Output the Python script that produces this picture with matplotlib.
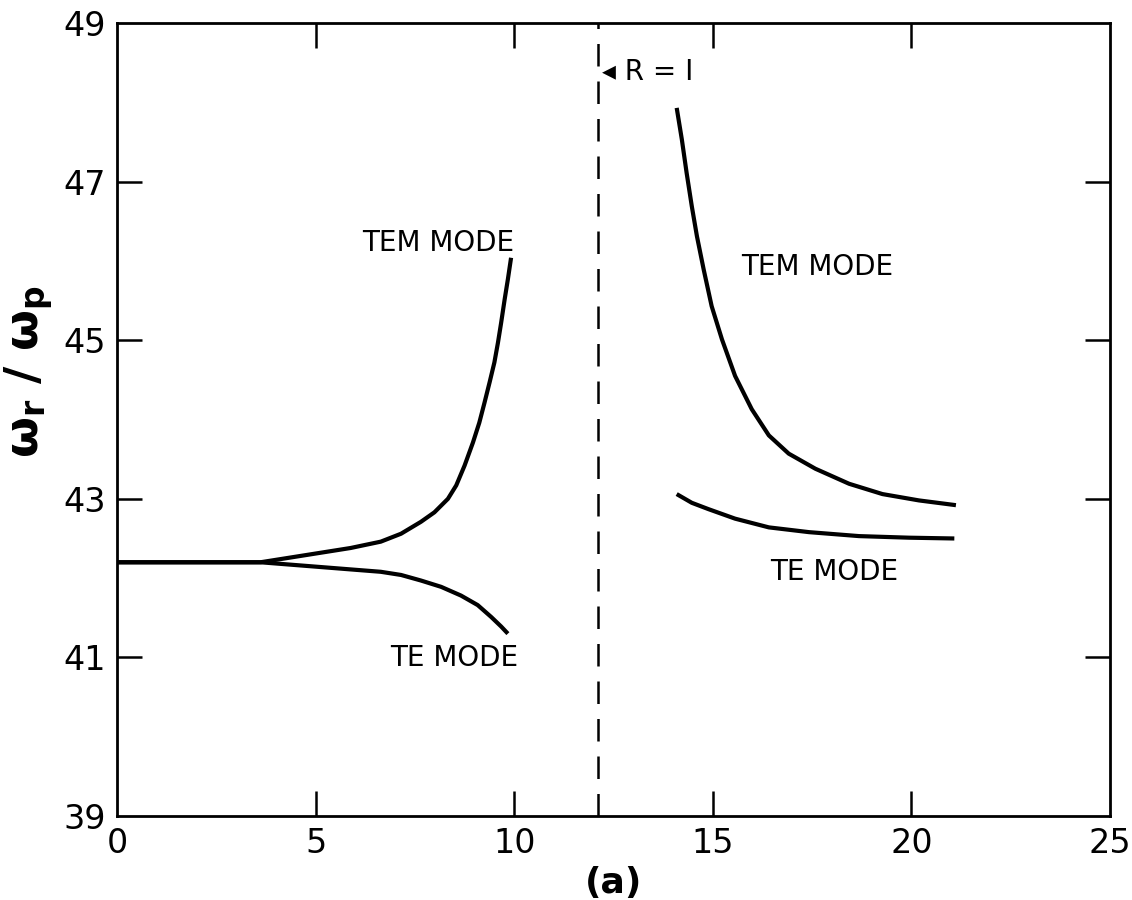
import numpy as np
import matplotlib.pyplot as plt

plt.rcParams['mathtext.default'] = 'regular'

# values
tem_left_x = [0.0, 2.0, 3.61, 4.62, 5.88, 6.64, 7.15, 7.65, 7.99, 8.33, 8.54, 8.75, 8.96,
              9.12, 9.25, 9.38, 9.50, 9.59, 9.67, 9.76, 9.84, 9.92]
tem_left_y = [42.2, 42.2, 42.2, 42.28, 42.38, 42.46, 42.56, 42.71, 42.83, 43.00, 43.17, 43.42, 43.71,
              43.96, 44.21, 44.47, 44.72, 44.97, 45.22, 45.52, 45.77, 46.04]

te_left_x = [0.0, 2.0, 3.61, 4.62, 5.88, 6.64, 7.15, 7.65, 8.16, 8.66, 9.08, 9.42, 9.67, 9.84]
te_left_y = [42.2, 42.2, 42.2, 42.16, 42.11, 42.08, 42.04, 41.97, 41.89, 41.78, 41.66, 41.51, 41.39, 41.30]

tem_right_x = [14.09, 14.22, 14.34, 14.47, 14.60, 14.77, 14.97, 15.23, 15.56, 15.98, 16.41,
               16.91, 17.58, 18.43, 19.27, 20.19, 21.12]
tem_right_y = [47.93, 47.53, 47.11, 46.69, 46.31, 45.89, 45.43, 45.01, 44.55, 44.13, 43.80,
               43.57, 43.38, 43.19, 43.06, 42.98, 42.92]

te_right_x = [14.09, 14.47, 14.89, 15.56, 16.41, 17.42, 18.68, 19.94, 21.08]
te_right_y = [43.06, 42.95, 42.87, 42.75, 42.64, 42.58, 42.53, 42.51, 42.50]

r1_x = 12.1
xticks = [0, 5, 10, 15, 20, 25]
yticks = [39, 41, 43, 45, 47, 49]

fig = plt.figure(figsize=(11.32, 9), dpi=100)
ax = fig.add_axes([0.1034, 0.0933, 0.8772, 0.8811])

for xs, ys in [(tem_left_x, tem_left_y), (te_left_x, te_left_y),
               (tem_right_x, tem_right_y), (te_right_x, te_right_y)]:
    ax.plot(xs, ys, color='black', linewidth=3, solid_capstyle='butt',
            solid_joinstyle='round')

ax.axvline(r1_x, color='black', linewidth=1.8, linestyle=(0, (9, 6)))

ax.set_xlim(0, 25)
ax.set_ylim(39, 49)
ax.set_xticks(xticks)
ax.set_yticks(yticks)
ax.set_xticklabels([str(t) for t in xticks])
ax.set_yticklabels([str(t) for t in yticks])
ax.tick_params(direction='in', length=18, width=1.8, labelsize=24,
               top=True, right=True, pad=8)
for spine in ax.spines.values():
    spine.set_linewidth(2)
# hide corner ticks
for tk in ax.xaxis.get_major_ticks()[::5] + ax.yaxis.get_major_ticks()[::5]:
    tk.tick1line.set_visible(False)
    tk.tick2line.set_visible(False)

ax.set_ylabel(r'$\mathbf{\omega_r\ /\ \omega_p}$', fontsize=34)
ax.yaxis.set_label_coords(-0.062, 0.56)
ax.set_xlabel('(a)', fontsize=26, fontweight='bold', labelpad=4)

ax.text(8.08, 46.23, 'TEM MODE', fontsize=20, ha='center', va='center')
ax.text(8.48, 40.99, 'TE MODE', fontsize=20, ha='center', va='center')
ax.text(17.63, 45.92, 'TEM MODE', fontsize=20, ha='center', va='center')
ax.text(18.06, 42.08, 'TE MODE', fontsize=20, ha='center', va='center')
ax.text(r1_x + 0.12, 48.38, '\u25c2 R = I', fontsize=20, ha='left', va='center')

fig.savefig('out.png', dpi=100)
